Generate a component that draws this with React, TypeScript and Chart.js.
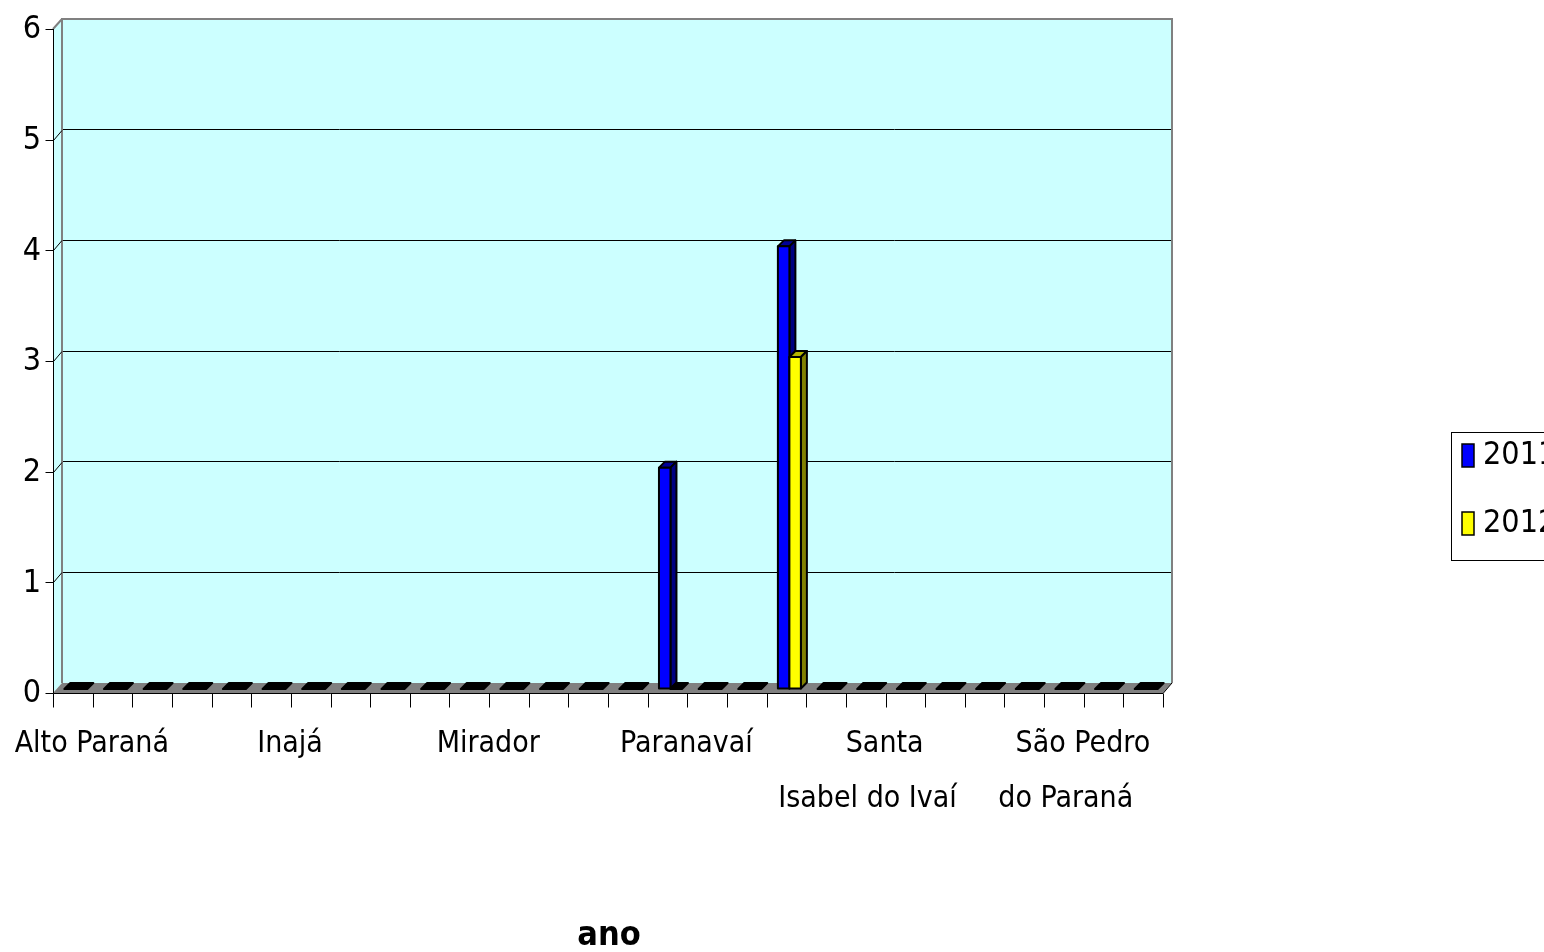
import React, { useEffect, useRef } from 'react';
import { Chart, registerables } from 'chart.js';
Chart.register(...registerables);

const categories = [
  'Alto Paraná', 'Amaporã', 'Cruzeiro do Sul', 'Diamante do Norte', 'Guairaçá',
  'Inajá', 'Itaúna do Sul', 'Jardim Olinda', 'Loanda', 'Marilena',
  'Mirador', 'Nova Aliança do Ivaí', 'Nova Londrina', 'Paraíso do Norte', 'Paranacity',
  'Paranavaí', 'Planaltina do Paraná', 'Porto Rico', 'Querência do Norte', 'Santa Cruz de Monte Castelo',
  'Santa Isabel do Ivaí', 'Santa Mônica', 'Santo Antônio do Caiuá', 'São Carlos do Ivaí', 'São João do Caiuá',
  'São Pedro do Paraná', 'Tamboara', 'Terra Rica',
];
const values2011 = [0, 0, 0, 0, 0, 0, 0, 0, 0, 0, 0, 0, 0, 0, 0, 2, 0, 0, 4, 0, 0, 0, 0, 0, 0, 0, 0, 0];
const values2012 = [0, 0, 0, 0, 0, 0, 0, 0, 0, 0, 0, 0, 0, 0, 0, 0, 0, 0, 3, 0, 0, 0, 0, 0, 0, 0, 0, 0];
const seriesLabels = ['2011', '2012'];
const tickLabelIndex = [0, 5, 10, 15, 20, 25];
const tickLabelText: string[][] = [
  ['Alto Paraná'], ['Inajá'], ['Mirador'], ['Paranavaí'],
  ['Santa', 'Isabel do Ivaí    '], ['São Pedro', 'do Paraná    '],
];
const yTicks = [0, 1, 2, 3, 4, 5, 6];
const xAxisTitle = 'ano';

const FONT = '"DejaVu Sans Condensed", "Liberation Sans Narrow", sans-serif';
const FRONT = ['#0000FF', '#FFFF00'];
const TOP = ['#000099', '#B3B300'];
const SIDE = ['#000080', '#808000'];
const WALL = '#CCFFFF';
const WDX = -9, WDY = 10; // wall depth (front relative to back)
const BDX = -6, BDY = 6; // bar depth

const wallPlugin = {
  id: 'walls',
  beforeDraw(chart: any) {
    const { ctx, chartArea: a } = chart;
    ctx.save();
    ctx.fillStyle = WALL;
    ctx.fillRect(a.left, a.top, a.right - a.left, a.bottom - a.top);
    ctx.beginPath();
    ctx.moveTo(a.left + WDX, a.top + WDY);
    ctx.lineTo(a.left, a.top);
    ctx.lineTo(a.left, a.bottom);
    ctx.lineTo(a.left + WDX, a.bottom + WDY);
    ctx.closePath();
    ctx.fill();
    ctx.restore();
  },
  beforeDatasetsDraw(chart: any) {
    const { ctx, chartArea: a } = chart;
    const ys = chart.scales.y;
    ctx.save();
    ctx.fillStyle = '#808080';
    ctx.beginPath();
    ctx.moveTo(a.left + WDX, a.bottom + WDY);
    ctx.lineTo(a.left, a.bottom);
    ctx.lineTo(a.right, a.bottom);
    ctx.lineTo(a.right + WDX, a.bottom + WDY);
    ctx.closePath();
    ctx.fill();
    ctx.strokeStyle = '#808080';
    ctx.lineWidth = 2;
    ctx.beginPath();
    ctx.moveTo(a.left, a.bottom);
    ctx.lineTo(a.left, a.top);
    ctx.lineTo(a.right, a.top);
    ctx.lineTo(a.right, a.bottom);
    ctx.moveTo(a.left + WDX, a.top + WDY);
    ctx.lineTo(a.left, a.top);
    ctx.stroke();
    ctx.strokeStyle = '#000';
    ctx.lineWidth = 1;
    ctx.beginPath();
    const fx = a.left + WDX + 0.5;
    const fb = a.bottom + WDY + 0.5;
    ctx.moveTo(fx, a.top + WDY);
    ctx.lineTo(fx, fb);
    ctx.lineTo(a.right + WDX, fb);
    ctx.lineTo(a.right, a.bottom);
    yTicks.forEach((v) => {
      const by = Math.round(ys.getPixelForValue(v)) + 0.5;
      ctx.moveTo(fx - 8, by + WDY);
      ctx.lineTo(fx, by + WDY);
      if (v > 0 && v < 6) {
        ctx.moveTo(fx, by + WDY);
        ctx.lineTo(a.left, by);
      }
    });
    const n = categories.length;
    const step = (a.right - a.left) / n;
    for (let i = 0; i <= n; i++) {
      const x = Math.round(a.left + WDX + i * step) + 0.5;
      ctx.moveTo(x, fb);
      ctx.lineTo(x, fb + 14);
    }
    ctx.stroke();
    ctx.restore();
  },
  afterDatasetsDraw(chart: any) {
    const { ctx } = chart;
    const metas = chart.data.datasets.map((_: any, i: number) => chart.getDatasetMeta(i));
    ctx.save();
    ctx.lineJoin = 'round';
    ctx.lineWidth = 2;
    ctx.strokeStyle = '#000';
    for (let j = 0; j < categories.length; j++) {
      metas.forEach((meta: any, di: number) => {
        const el = meta.data[j];
        const { x, y, base, width } = el.getProps(['x', 'y', 'base', 'width'], true);
        const l = x - width / 2, r = x + width / 2;
        const fl = l + BDX, fr = r + BDX, ft = y + BDY, fb = base + BDY;
        const zero = Math.abs(base - y) < 0.5;
        ctx.fillStyle = zero ? '#000' : TOP[di];
        ctx.beginPath();
        ctx.moveTo(fl, ft); ctx.lineTo(fr, ft); ctx.lineTo(r, y); ctx.lineTo(l, y); ctx.closePath();
        ctx.fill(); ctx.stroke();
        if (!zero) {
          ctx.fillStyle = SIDE[di];
          ctx.beginPath();
          ctx.moveTo(fr, ft); ctx.lineTo(r, y); ctx.lineTo(r, base); ctx.lineTo(fr, fb); ctx.closePath();
          ctx.fill(); ctx.stroke();
          ctx.fillStyle = FRONT[di];
          ctx.fillRect(fl, ft, fr - fl, fb - ft);
          ctx.strokeRect(fl, ft, fr - fl, fb - ft);
        }
      });
    }
    ctx.restore();
  },
  afterDraw(chart: any) {
    const { ctx } = chart;
    ctx.save();
    ctx.fillStyle = '#fff';
    ctx.fillRect(1451, 432, 140, 128);
    ctx.strokeStyle = '#000';
    ctx.lineWidth = 1;
    ctx.strokeRect(1451.5, 432.5, 140, 128);
    chart.data.datasets.forEach((ds: any, i: number) => {
      const cy = 455 + i * 68;
      ctx.fillStyle = FRONT[i];
      ctx.fillRect(1462, cy - 11, 12, 23);
      ctx.lineWidth = 1.5;
      ctx.strokeRect(1462, cy - 11, 12, 23);
      ctx.fillStyle = '#000';
      ctx.font = `32px ${FONT}`;
      ctx.textBaseline = 'middle';
      ctx.textAlign = 'left';
      ctx.fillText(ds.label, 1483, cy + 1);
    });
    ctx.font = `bold 34px ${FONT}`;
    ctx.textAlign = 'center';
    ctx.textBaseline = 'middle';
    ctx.fillText(xAxisTitle, 609, 936);
    ctx.restore();
  },
};

export default function App() {
  const ref = useRef<HTMLCanvasElement>(null);
  useEffect(() => {
    document.body.style.margin = '0';
    document.body.style.overflow = 'hidden';
    const chart = new Chart(ref.current!, {
      type: 'bar',
      data: {
        labels: categories,
        datasets: [
          { label: seriesLabels[0], data: values2011, backgroundColor: 'rgba(0,0,0,0)', borderWidth: 0 },
          { label: seriesLabels[1], data: values2012, backgroundColor: 'rgba(0,0,0,0)', borderWidth: 0 },
        ],
      },
      options: {
        animation: false,
        responsive: true,
        maintainAspectRatio: false,
        layout: { padding: { left: 0, right: 372, top: 19, bottom: 0 } },
        plugins: { legend: { display: false }, tooltip: { enabled: false } },
        datasets: { bar: { categoryPercentage: 0.58, barPercentage: 1 } },
        scales: {
          x: {
            grid: { display: false },
            border: { display: false },
            afterFit: (s: any) => {
              s.height = 269;
              s.paddingLeft = 0; s.paddingRight = 0; s.paddingTop = 0; s.paddingBottom = 0;
            },
            ticks: {
              autoSkip: false,
              maxRotation: 0,
              minRotation: 0,
              labelOffset: 10,
              padding: 25,
              color: '#000',
              font: { family: FONT, size: 30, lineHeight: 1.85 },
              callback: (_v: any, i: number) => {
                const k = tickLabelIndex.indexOf(i);
                return k >= 0 ? tickLabelText[k] : '';
              },
            },
          },
          y: {
            min: 0,
            max: 6,
            afterFit: (s: any) => {
              s.width = 62;
              s.paddingLeft = 0; s.paddingRight = 0; s.paddingTop = 0; s.paddingBottom = 0;
            },
            grid: { color: '#000', lineWidth: 1, drawTicks: false },
            border: { display: false },
            ticks: {
              stepSize: 1,
              padding: 21,
              labelOffset: 11,
              color: '#000',
              font: { family: FONT, size: 32 },
            },
          },
        },
      },
      plugins: [wallPlugin],
    } as any);
    return () => chart.destroy();
  }, []);
  return (
    <div style={{ width: 1544, height: 952, position: 'relative' }}>
      <canvas ref={ref} />
    </div>
  );
}
